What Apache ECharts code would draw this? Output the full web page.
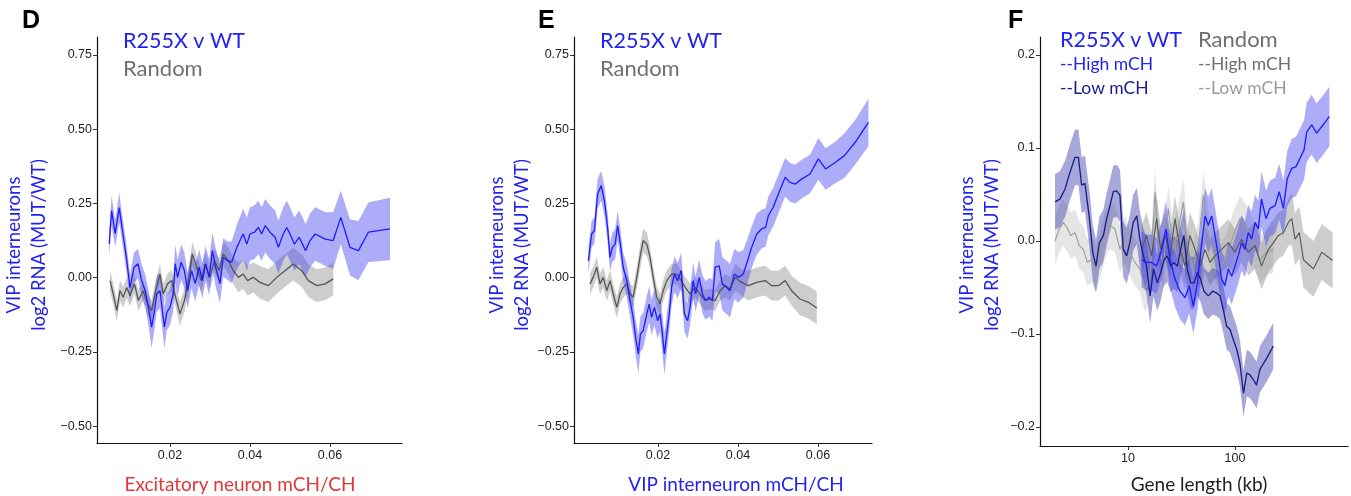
<!DOCTYPE html>
<html>
<head>
<meta charset="utf-8">
<script src="https://cdn.jsdelivr.net/npm/echarts@6/dist/echarts.min.js"></script>
<style>
html,body{margin:0;padding:0;background:#fff;}
#chart{width:1351px;height:496px;}
</style>
</head>
<body>
<div id="chart"></div>
<script>
// ---------- Panel D: Excitatory neuron mCH/CH ----------
const dBlueX = [0.0048,0.0054,0.0063,0.0073,0.0079,0.0092,0.0100,0.0110,0.0120,0.0129,0.0138,0.0146,0.0154,0.0160,0.0167,0.0175,0.0186,0.0192,0.0200,0.0208,0.0213,0.0219,0.0228,0.0236,0.0244,0.0254,0.0263,0.0273,0.0281,0.0289,0.0298,0.0306,0.0314,0.0325,0.0333,0.0344,0.0354,0.0367,0.0375,0.0383,0.0392,0.0400,0.0411,0.0421,0.0429,0.0438,0.0450,0.0463,0.0471,0.0483,0.0492,0.0500,0.0511,0.0523,0.0539,0.0550,0.0563,0.0588,0.0608,0.0627,0.0650,0.0671,0.0696,0.0750];
const dBlueY = [0.114,0.226,0.148,0.236,0.180,0.057,-0.034,0.034,0.047,-0.010,-0.044,-0.100,-0.167,-0.122,-0.054,-0.044,-0.167,-0.117,-0.100,-0.054,0.047,0.001,0.052,0.024,-0.044,0.024,-0.020,0.035,-0.010,0.047,0.001,0.091,0.035,-0.020,0.068,0.057,0.052,0.102,0.125,0.147,0.113,0.147,0.153,0.169,0.147,0.175,0.153,0.136,0.102,0.147,0.169,0.147,0.113,0.136,0.091,0.125,0.147,0.130,0.125,0.203,0.102,0.091,0.153,0.164];
const dBlueCI = [0.045,0.05,0.045,0.05,0.045,0.045,0.045,0.05,0.05,0.055,0.055,0.06,0.07,0.06,0.06,0.06,0.07,0.06,0.06,0.06,0.065,0.06,0.06,0.06,0.06,0.06,0.06,0.06,0.06,0.06,0.06,0.06,0.065,0.065,0.065,0.065,0.07,0.075,0.08,0.085,0.09,0.09,0.09,0.09,0.09,0.09,0.09,0.09,0.09,0.09,0.09,0.09,0.09,0.09,0.09,0.09,0.09,0.09,0.095,0.09,0.095,0.1,0.1,0.105];
const dGrayX = [0.0050,0.0058,0.0067,0.0075,0.0083,0.0092,0.0100,0.0111,0.0121,0.0133,0.0144,0.0154,0.0164,0.0175,0.0183,0.0194,0.0204,0.0214,0.0225,0.0236,0.0246,0.0256,0.0267,0.0278,0.0288,0.0300,0.0311,0.0323,0.0333,0.0346,0.0358,0.0371,0.0383,0.0394,0.0408,0.0425,0.0446,0.0467,0.0488,0.0508,0.0529,0.0546,0.0567,0.0588,0.0608];
const dGrayY = [-0.010,-0.055,-0.111,-0.044,-0.066,-0.033,-0.061,-0.021,-0.077,-0.044,-0.089,-0.111,-0.044,0.012,-0.055,-0.021,-0.010,-0.066,-0.122,-0.077,-0.010,0.080,0.035,-0.010,0.046,0.001,0.057,0.024,0.080,0.057,0.024,0.001,0.012,-0.010,0.001,-0.016,-0.027,0.001,0.024,0.046,0.024,-0.010,-0.027,-0.021,-0.004];
const dGrayCI = [0.035,0.035,0.035,0.035,0.035,0.035,0.035,0.035,0.035,0.035,0.035,0.035,0.035,0.035,0.035,0.035,0.035,0.035,0.04,0.04,0.04,0.04,0.04,0.04,0.04,0.04,0.04,0.04,0.04,0.045,0.045,0.05,0.05,0.05,0.05,0.055,0.055,0.055,0.055,0.055,0.055,0.055,0.055,0.055,0.055];

// ---------- Panel E: VIP interneuron mCH/CH ----------
const eBlueX = [0.0026,0.0034,0.0041,0.0049,0.0058,0.0066,0.0074,0.0080,0.0086,0.0093,0.0099,0.0106,0.0113,0.0122,0.0130,0.0138,0.0144,0.0151,0.0156,0.0163,0.0172,0.0178,0.0184,0.0191,0.0199,0.0205,0.0211,0.0216,0.0222,0.0228,0.0234,0.0241,0.0249,0.0258,0.0266,0.0274,0.0280,0.0288,0.0294,0.0303,0.0311,0.0319,0.0328,0.0336,0.0343,0.0353,0.0361,0.0372,0.0380,0.0391,0.0401,0.0413,0.0424,0.0434,0.0447,0.0459,0.0469,0.0476,0.0488,0.0501,0.0518,0.0530,0.0543,0.0559,0.0580,0.0601,0.0619,0.0643,0.0666,0.0693,0.0726];
const eBlueY = [0.057,0.147,0.158,0.282,0.310,0.259,0.169,0.068,0.102,0.113,0.175,0.113,0.035,-0.010,-0.077,-0.134,-0.201,-0.257,-0.190,-0.178,-0.122,-0.089,-0.134,-0.100,-0.145,-0.122,-0.190,-0.257,-0.190,-0.122,-0.033,0.012,-0.010,0.024,-0.122,-0.145,-0.100,-0.010,-0.055,0.001,-0.055,-0.077,-0.066,-0.077,0.035,0.040,-0.021,-0.033,-0.044,0.012,0.001,0.012,0.057,0.102,0.147,0.164,0.169,0.209,0.237,0.282,0.338,0.321,0.315,0.332,0.349,0.400,0.366,0.388,0.411,0.456,0.523];
const eBlueCI = [0.045,0.045,0.045,0.05,0.05,0.05,0.05,0.045,0.05,0.05,0.05,0.05,0.05,0.055,0.055,0.06,0.06,0.065,0.06,0.06,0.06,0.06,0.06,0.06,0.06,0.06,0.065,0.07,0.065,0.06,0.06,0.06,0.06,0.06,0.06,0.06,0.06,0.06,0.06,0.06,0.065,0.065,0.065,0.07,0.085,0.09,0.09,0.09,0.09,0.085,0.085,0.08,0.075,0.07,0.07,0.065,0.065,0.065,0.065,0.065,0.065,0.065,0.065,0.065,0.065,0.07,0.07,0.07,0.075,0.075,0.08];
const eGrayX = [0.0030,0.0038,0.0047,0.0055,0.0063,0.0072,0.0080,0.0088,0.0097,0.0105,0.0113,0.0122,0.0130,0.0138,0.0147,0.0155,0.0163,0.0172,0.0180,0.0188,0.0197,0.0205,0.0213,0.0222,0.0234,0.0247,0.0258,0.0268,0.0280,0.0293,0.0305,0.0318,0.0330,0.0343,0.0355,0.0368,0.0380,0.0393,0.0409,0.0426,0.0447,0.0468,0.0484,0.0501,0.0518,0.0534,0.0555,0.0576,0.0597];
const eGrayY = [-0.021,0.001,0.035,-0.021,0.001,-0.044,-0.010,-0.055,-0.100,-0.055,-0.033,-0.021,-0.055,-0.066,0.001,0.068,0.125,0.113,0.068,0.001,-0.066,-0.089,-0.044,-0.010,0.012,0.012,-0.010,-0.033,-0.055,-0.033,-0.055,-0.077,-0.072,-0.077,-0.044,-0.027,-0.038,0.001,-0.016,-0.027,-0.016,-0.010,-0.027,-0.027,-0.010,-0.044,-0.072,-0.083,-0.102];
const eGrayCI = [0.035,0.035,0.035,0.035,0.035,0.035,0.035,0.035,0.035,0.035,0.035,0.035,0.035,0.035,0.035,0.04,0.04,0.04,0.035,0.035,0.035,0.035,0.035,0.035,0.035,0.035,0.035,0.035,0.035,0.035,0.035,0.035,0.035,0.035,0.035,0.04,0.04,0.045,0.045,0.05,0.05,0.05,0.05,0.05,0.05,0.05,0.055,0.055,0.055];

// ---------- Panel F: Gene length (kb) ----------
const fLowKb = [2.08,2.31,2.58,2.87,3.20,3.44,3.69,3.96,4.36,4.68,5.02,5.40,5.89,6.32,6.79,7.29,7.83,8.41,9.04,9.72,10.4,11.2,12.1,12.9,13.9,14.9,16.1,17.3,18.8,20.2,21.7,23.3,25.1,26.9,28.9,31.0,33.3,35.8,38.5,41.4,44.5,47.8,51.3,56.4,61.8,67.5,72.4,77.8,83.6,89.7,96.4,104,111,120,129,138,148,159,171,198,228];
const fLowY = [0.042,0.045,0.056,0.074,0.090,0.090,0.060,0.062,0.024,-0.012,-0.027,-0.002,0.006,0.024,0.038,0.053,0.054,0.049,-0.009,-0.016,-0.002,0.020,0.027,0.002,-0.016,-0.027,-0.059,-0.030,-0.045,-0.034,-0.020,-0.016,-0.027,-0.023,-0.027,-0.009,0.006,-0.030,-0.045,-0.045,-0.034,-0.041,-0.054,-0.059,-0.054,-0.056,-0.059,-0.074,-0.092,-0.095,-0.106,-0.117,-0.131,-0.164,-0.142,-0.144,-0.149,-0.155,-0.138,-0.126,-0.113];
const fLowCI = [0.03,0.03,0.03,0.03,0.03,0.03,0.03,0.03,0.03,0.03,0.028,0.028,0.028,0.028,0.028,0.028,0.028,0.028,0.03,0.03,0.03,0.03,0.03,0.03,0.03,0.03,0.03,0.03,0.03,0.03,0.028,0.028,0.028,0.028,0.028,0.028,0.028,0.028,0.028,0.028,0.025,0.025,0.025,0.025,0.025,0.025,0.025,0.025,0.025,0.025,0.025,0.025,0.025,0.025,0.025,0.025,0.025,0.025,0.025,0.025,0.025];
const fHighKb = [13.4,14.9,16.6,18.5,20.7,22.6,24.7,27.5,30.6,34.1,37.4,40.8,44.5,48.9,52.5,56.4,60.5,65.0,69.8,75.0,80.5,86.7,93.1,100,107,115,124,133,143,154,165,177,195,212,237,259,283,308,339,372,405,442,468,520,579,668,762];
const fHighY = [-0.020,-0.023,-0.023,-0.027,-0.009,0.013,-0.020,-0.041,-0.054,-0.061,-0.048,-0.070,-0.045,-0.002,0.027,0.017,0.027,0.006,-0.016,-0.041,-0.048,-0.030,-0.038,-0.027,-0.016,-0.002,-0.009,0.009,0.002,0.020,0.013,0.045,0.024,0.035,0.038,0.053,0.035,0.067,0.078,0.080,0.089,0.098,0.117,0.125,0.116,0.125,0.134];
const fHighCI = [0.03,0.03,0.03,0.03,0.03,0.03,0.03,0.03,0.03,0.03,0.03,0.03,0.03,0.03,0.03,0.03,0.03,0.03,0.03,0.03,0.03,0.03,0.03,0.03,0.03,0.03,0.03,0.03,0.03,0.03,0.03,0.03,0.03,0.03,0.03,0.03,0.03,0.03,0.032,0.032,0.032,0.032,0.032,0.032,0.032,0.032,0.032];
const fRandLowKb = [2.08,2.28,2.49,2.67,2.91,3.20,3.51,3.83,4.17,4.57,5.02,5.47,6.10,6.79,7.55,8.41,9.38,10.4,11.6,12.9,14.4,16.1,17.9,19.2,21.4,23.8,26.5,29.5,32.9,36.6,40.8,45.4,50.6,56.4,62.8,72.4,83.6,96.4,111,129,148,171,198,228];
const fRandLowY = [0.000,0.013,0.020,0.015,0.006,0.009,-0.005,-0.009,-0.023,-0.020,-0.030,-0.016,0.006,0.017,0.013,-0.009,0.002,-0.012,-0.023,-0.030,-0.052,-0.038,0.053,-0.002,-0.027,0.035,-0.009,0.013,0.042,-0.012,-0.027,-0.005,0.049,0.006,-0.012,-0.030,-0.016,0.006,0.024,0.013,-0.002,-0.020,-0.012,-0.009];
const fRandLowCI = [0.025,0.025,0.025,0.025,0.025,0.025,0.025,0.025,0.025,0.025,0.025,0.025,0.025,0.025,0.025,0.025,0.025,0.025,0.025,0.025,0.025,0.025,0.025,0.025,0.025,0.025,0.025,0.025,0.025,0.025,0.025,0.025,0.025,0.025,0.025,0.025,0.025,0.025,0.025,0.025,0.025,0.025,0.025,0.025];
const fRandHighKb = [13.4,14.9,16.6,18.5,20.2,22.2,24.7,27.5,30.6,34.1,37.9,42.3,47.1,52.5,58.3,65.0,75.0,86.7,100,115,133,154,177,205,228,254,283,315,339,364,399,436,484,540,646,818];
const fRandHighY = [-0.009,0.006,-0.016,0.024,-0.009,0.006,-0.016,0.024,-0.009,-0.027,0.006,-0.009,-0.027,-0.009,-0.023,-0.016,-0.009,-0.002,-0.012,0.002,-0.012,-0.005,-0.027,-0.009,-0.002,0.006,0.009,0.020,0.024,0.002,0.009,-0.020,-0.025,-0.030,-0.012,-0.021];
const fRandHighCI = [0.025,0.025,0.025,0.025,0.025,0.025,0.025,0.025,0.025,0.025,0.025,0.025,0.025,0.025,0.025,0.025,0.025,0.025,0.025,0.025,0.025,0.025,0.025,0.025,0.025,0.025,0.025,0.025,0.028,0.028,0.028,0.03,0.03,0.03,0.03,0.03];

// tick labels
const mchYTicks = [-0.5,-0.25,0,0.25,0.5,0.75];
const mchXTicks = [0.02,0.04,0.06];
const lenYTicks = [-0.2,-0.1,0,0.1,0.2];
const lenXTicksKb = [10,100];

// ---------- build ----------
const BLUE = '#1c1cff', BLUE_BAND = 'rgba(70,70,240,0.45)';
const GRAY = '#555555', GRAY_BAND = 'rgba(130,130,130,0.40)';
const NAVY = '#1a1a85', NAVY_BAND = 'rgba(60,60,170,0.45)';
const LGRAY = '#9a9a9a', LGRAY_BAND = 'rgba(170,170,170,0.30)';
const ident = v => v;
const lg = v => Math.log10(v);
const minus = s => s.replace('-', '\u2212');
const tickFont = {color:'#222', fontSize:12.5, fontFamily:'Liberation Sans, Arial, sans-serif'};

function band(g, xs, ys, ci, fill, tx) {
  return {
    type:'custom', xAxisIndex:g, yAxisIndex:g, silent:true, z:1,
    data:[[tx(xs[0]), ys[0]]],
    renderItem:(params, api) => {
      const pts = [];
      for (let i = 0; i < xs.length; i++) pts.push(api.coord([tx(xs[i]), ys[i] - ci[i]]));
      for (let i = xs.length - 1; i >= 0; i--) pts.push(api.coord([tx(xs[i]), ys[i] + ci[i]]));
      return {type:'polygon', shape:{points:pts}, style:{fill:fill}};
    }
  };
}
function line(g, xs, ys, color, tx, w) {
  return {
    type:'line', xAxisIndex:g, yAxisIndex:g, z:3, showSymbol:false, silent:true,
    data: xs.map((x,i) => [tx(x), ys[i]]),
    lineStyle:{color:color, width:w || 1.3}, itemStyle:{color:color}
  };
}
function xAxis(g, min, max, ticks, fmt) {
  return {
    type:'value', gridIndex:g, min:min, max:max,
    axisLine:{show:true, onZero:false, lineStyle:{color:'#111', width:1.2}},
    axisTick:{show:true, length:4, customValues:ticks, lineStyle:{color:'#333'}},
    axisLabel:{customValues:ticks, formatter:fmt, margin:6, ...tickFont},
    splitLine:{show:false}
  };
}
function yAxis(g, min, max, ticks, fmt) {
  return {
    type:'value', gridIndex:g, min:min, max:max,
    axisLine:{show:true, onZero:false, lineStyle:{color:'#111', width:1.2}},
    axisTick:{show:true, length:4, customValues:ticks, lineStyle:{color:'#333'}},
    axisLabel:{customValues:ticks, formatter:fmt, margin:5, ...tickFont},
    splitLine:{show:false}
  };
}

const TF = 'Lato, "Open Sans", sans-serif';
function txt(x, y, s, color, size, opts) {
  return Object.assign({type:'text', x:x, y:y, silent:true,
    style:{text:s, fill:color, font: (opts && opts.bold ? 'bold ' : '') + size + 'px ' + (opts && opts.family || TF),
      textAlign:(opts && opts.align) || 'left', textVerticalAlign:'middle'}}, (opts && opts.rot) ? {rotation: opts.rot} : {});
}

const fmt2 = v => minus(v.toFixed(2));
const fmt1 = v => minus(v.toFixed(1));
const fmtLen = v => String(Math.round(Math.pow(10, v)));

const option = {
  animation:false,
  backgroundColor:'#fff',
  grid:[
    {left:97, top:37, width:305, height:406},
    {left:574, top:37, width:298, height:406},
    {left:1040, top:37, width:308, height:409}
  ],
  xAxis:[
    xAxis(0, 0.00175, 0.078, mchXTicks, fmt2),
    xAxis(1, -0.001, 0.0735, mchXTicks, fmt2),
    xAxis(2, 0.1776, 3.056, lenXTicksKb.map(lg), fmtLen)
  ],
  yAxis:[
    yAxis(0, -0.557, 0.8106, mchYTicks, fmt2),
    yAxis(1, -0.557, 0.8106, mchYTicks, fmt2),
    yAxis(2, -0.2205, 0.2194, lenYTicks, fmt1)
  ],
  series:[
    band(0, dGrayX, dGrayY, dGrayCI, GRAY_BAND, ident),
    band(0, dBlueX, dBlueY, dBlueCI, BLUE_BAND, ident),
    line(0, dGrayX, dGrayY, GRAY, ident),
    line(0, dBlueX, dBlueY, BLUE, ident),
    band(1, eGrayX, eGrayY, eGrayCI, GRAY_BAND, ident),
    band(1, eBlueX, eBlueY, eBlueCI, BLUE_BAND, ident),
    line(1, eGrayX, eGrayY, GRAY, ident),
    line(1, eBlueX, eBlueY, BLUE, ident),
    band(2, fRandLowKb, fRandLowY, fRandLowCI, LGRAY_BAND, lg),
    band(2, fRandHighKb, fRandHighY, fRandHighCI, GRAY_BAND, lg),
    band(2, fLowKb, fLowY, fLowCI, NAVY_BAND, lg),
    band(2, fHighKb, fHighY, fHighCI, BLUE_BAND, lg),
    line(2, fRandLowKb, fRandLowY, LGRAY, lg, 1.1),
    line(2, fRandHighKb, fRandHighY, GRAY, lg, 1.1),
    line(2, fLowKb, fLowY, NAVY, lg, 1.3),
    line(2, fHighKb, fHighY, BLUE, lg, 1.3)
  ],
  graphic:[
    txt(22, 21, 'D', '#000', 25, {bold:true, family:'Liberation Sans, Arial, sans-serif'}),
    txt(538, 21, 'E', '#000', 25, {bold:true, family:'Liberation Sans, Arial, sans-serif'}),
    txt(1008, 21, 'F', '#000', 25, {bold:true, family:'Liberation Sans, Arial, sans-serif'}),
    txt(123, 41, 'R255X v WT', '#2323f0', 21.5),
    txt(123, 69, 'Random', '#6f6f6f', 22),
    txt(600, 41, 'R255X v WT', '#2323f0', 21.5),
    txt(600, 69, 'Random', '#6f6f6f', 22),
    txt(1060, 40, 'R255X v WT', '#2323f0', 21.5),
    txt(1198, 40, 'Random', '#6f6f6f', 22),
    txt(1060, 64, '--High mCH', '#2323f0', 17.5),
    txt(1060, 88, '--Low mCH', '#1a1a8c', 17.5),
    txt(1198, 64, '--High mCH', '#6f6f6f', 17.5),
    txt(1198, 88, '--Low mCH', '#9a9a9a', 17.5),
    txt(14, 245, 'VIP interneurons', '#2323f0', 18.5, {align:'center', rot:Math.PI/2}),
    txt(39, 245, 'log2 RNA (MUT/WT)', '#2323f0', 18.5, {align:'center', rot:Math.PI/2}),
    txt(497, 245, 'VIP interneurons', '#2323f0', 18.5, {align:'center', rot:Math.PI/2}),
    txt(522, 245, 'log2 RNA (MUT/WT)', '#2323f0', 18.5, {align:'center', rot:Math.PI/2}),
    txt(967, 245, 'VIP interneurons', '#2323f0', 18.5, {align:'center', rot:Math.PI/2}),
    txt(992, 245, 'log2 RNA (MUT/WT)', '#2323f0', 18.5, {align:'center', rot:Math.PI/2}),
    txt(240, 485, 'Excitatory neuron mCH/CH', '#e0383a', 19, {align:'center'}),
    txt(736, 485, 'VIP interneuron mCH/CH', '#2323f0', 19, {align:'center'}),
    txt(1199, 485, 'Gene length (kb)', '#222', 19, {align:'center'})
  ]
};
const chart = echarts.init(document.getElementById('chart'), null, {renderer:'canvas'});
chart.setOption(option);
</script>
</body>
</html>
